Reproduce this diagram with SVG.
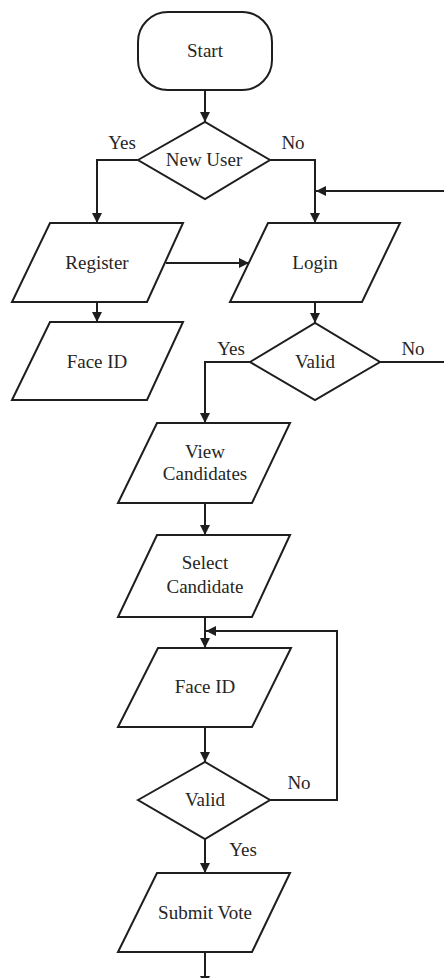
<svg xmlns="http://www.w3.org/2000/svg" width="444" height="978" viewBox="0 0 444 978" font-family="'Liberation Serif', 'DejaVu Serif', serif">
<style>
.s{fill:#fff;stroke:#1e1e1e;stroke-width:2;stroke-linejoin:miter}
.c{fill:none;stroke:#1e1e1e;stroke-width:2}
.t{font-family:'Liberation Serif','DejaVu Serif',serif;font-size:19px;fill:#262626;text-anchor:middle}
</style>
<defs>
<marker id="ah" viewBox="0 0 10 10" refX="10" refY="5" markerWidth="10" markerHeight="10" markerUnits="userSpaceOnUse" orient="auto">
<path d="M0,0 L10,5 L0,10 z" fill="#1e1e1e"/>
</marker>
</defs>
<g id="connectors">
<path class="c" d="M205,90 V122" marker-end="url(#ah)"/>
<path class="c" d="M138,160 H97 V223" marker-end="url(#ah)"/>
<path class="c" d="M270,160 H315 V223" marker-end="url(#ah)"/>
<path class="c" d="M380,362 H452 V191 H316" marker-end="url(#ah)"/>
<path class="c" d="M166,263 H249" marker-end="url(#ah)"/>
<path class="c" d="M97,302 V322" marker-end="url(#ah)"/>
<path class="c" d="M315,302 V323" marker-end="url(#ah)"/>
<path class="c" d="M250,362 H205 V423" marker-end="url(#ah)"/>
<path class="c" d="M205,503 V535" marker-end="url(#ah)"/>
<path class="c" d="M205,617 V648" marker-end="url(#ah)"/>
<path class="c" d="M270,800 H337 V631 H206" marker-end="url(#ah)"/>
<path class="c" d="M205,727 V762" marker-end="url(#ah)"/>
<path class="c" d="M205,839 V873" marker-end="url(#ah)"/>
<path class="c" d="M205,952 V986" marker-end="url(#ah)"/>
<text x="122" y="149" class="t">Yes</text>
<text x="293" y="149" class="t">No</text>
<text x="231" y="355" class="t">Yes</text>
<text x="413" y="355" class="t">No</text>
<text x="299" y="789" class="t">No</text>
<text x="243" y="856" class="t">Yes</text>
</g>
<g id="start">
<rect class="s" x="138" y="12" width="134" height="78" rx="30" ry="30"/>
<text x="205" y="57" class="t">Start</text>
</g>
<g id="newuser">
<polygon class="s" points="138,160 205,122 270,160 205,199"/>
<text x="204" y="166" class="t">New User</text>
</g>
<g id="register">
<polygon class="s" points="50,223 183,223 147,302 12,302"/>
<text x="97" y="269" class="t">Register</text>
</g>
<g id="login">
<polygon class="s" points="268,223 400,223 362,302 230,302"/>
<text x="315" y="269" class="t">Login</text>
</g>
<g id="faceid1">
<polygon class="s" points="50,322 183,322 147,400 12,400"/>
<text x="97" y="368" class="t">Face ID</text>
</g>
<g id="valid1">
<polygon class="s" points="250,362 315,323 380,362 315,400"/>
<text x="315" y="368" class="t">Valid</text>
</g>
<g id="view">
<polygon class="s" points="157,423 290,423 252,503 118,503"/>
<text x="205" y="458" class="t">View</text>
<text x="205" y="480" class="t">Candidates</text>
</g>
<g id="select">
<polygon class="s" points="157,535 290,535 252,617 118,617"/>
<text x="205" y="569" class="t">Select</text>
<text x="205" y="593" class="t">Candidate</text>
</g>
<g id="faceid2">
<polygon class="s" points="158,648 291,648 252,727 118,727"/>
<text x="205" y="693" class="t">Face ID</text>
</g>
<g id="valid2">
<polygon class="s" points="138,800 205,762 270,800 205,839"/>
<text x="205" y="806" class="t">Valid</text>
</g>
<g id="submit">
<polygon class="s" points="157,873 290,873 252,952 118,952"/>
<text x="205" y="919" class="t">Submit Vote</text>
</g>
</svg>
